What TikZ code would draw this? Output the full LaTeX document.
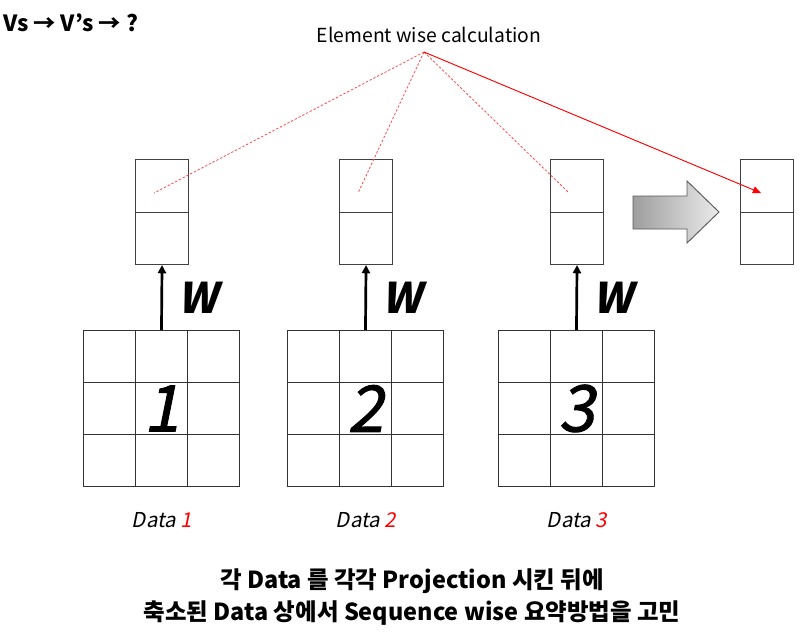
\documentclass[tikz,border=0pt]{standalone}
\usepackage{fontspec}
\setmainfont{Noto Sans CJK KR}
\newfontfamily\slfont[FakeSlant=0.2]{Noto Sans CJK KR}
\newfontfamily\digfont[FakeSlant=0.2,FakeBold=1.4]{Noto Sans CJK KR}
\usetikzlibrary{arrows.meta}
\tikzset{
  vbox/.style={draw=black!75, line width=0.9pt, minimum width=1.59cm, minimum height=3.15cm, inner sep=0pt, anchor=north west},
  gbox/.style={draw=black!80, line width=0.8pt, minimum size=4.68cm, inner sep=0pt, anchor=north west,
               font=\digfont\fontsize{55}{58}\selectfont},
  proj/.style={-{Triangle[length=7pt,width=7pt]}, line width=2.3pt},
  elem/.style={red!70, line width=0.7pt, dash pattern=on 2pt off 1.6pt},
  wlbl/.style={font=\slfont\bfseries\fontsize{36}{38}\selectfont},
}
\begin{document}
\begin{tikzpicture}[x=0.03cm, y=-0.03cm]
  \useasboundingbox (0,0) rectangle (812,633);
  \node[anchor=base west, inner sep=0pt, font=\bfseries\fontsize{19}{22}\selectfont] (title) at (3,31) {Vs → V’s → ?};
  \node[anchor=base, inner sep=0pt, font=\fontsize{16.5}{19}\selectfont] (calc) at (429,42) {Element wise calculation};
  \coordinate (src) at (424,52);

  \foreach \i/\x/\g in {1/135/83, 2/339/287, 3/550/498} {
    \node[vbox] (v\i) at (\x,159) {};
    \draw[black!75, line width=0.9pt] (v\i.west) -- (v\i.east);
    \node[gbox] (d\i) at (\g,330) {\i};
    \foreach \k in {1,2}
      \draw[black!80, line width=0.8pt] (\g+52*\k,330) -- (\g+52*\k,486)
                                        (\g,330+52*\k) -- (\g+156,330+52*\k);
    \draw[proj] (d\i.north) -- (v\i.south);
    \node[wlbl] (w\i) at (\x+63,298) {W};
    \node[font=\slfont\fontsize{17.5}{20}\selectfont] (lab\i) at (\g+79,520) {Data \textcolor{red}{\i}};
    \coordinate (e\i) at (\x+19,193);
    \draw[elem] (src) -- (e\i);
  }

  % reduced result
  \node[vbox] (v4) at (740,159) {};
  \draw[black!75, line width=0.9pt] (v4.west) -- (v4.east);
  \coordinate (e4) at (761,193);
  \draw[red, line width=0.8pt, -{Triangle[length=7pt,width=6pt]}] (src) -- (e4);

  \shade[left color=black!38, right color=black!8, draw=black!65, line width=0.8pt]
    (633,196) -- (687,196) -- (687,181) -- (719,212) -- (687,243) -- (687,229) -- (633,229) -- cycle;

  \node[align=center, font=\bfseries\fontsize{20}{27}\selectfont] (note) at (412,597)
    {각 Data 를 각각 Projection 시킨 뒤에\\축소된 Data 상에서 Sequence wise 요약방법을 고민};
\end{tikzpicture}
\end{document}
